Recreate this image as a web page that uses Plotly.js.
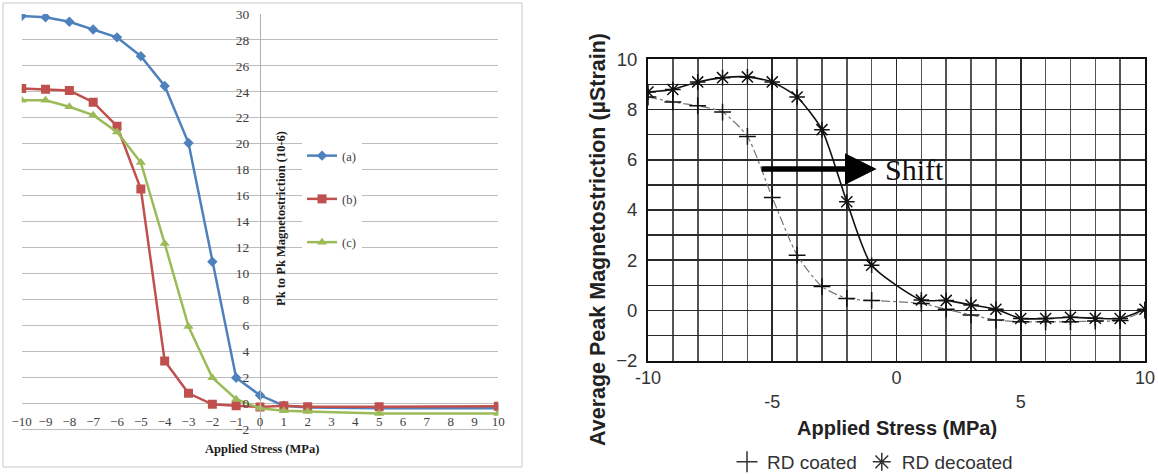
<!DOCTYPE html>
<html>
<head>
<meta charset="utf-8">
<script src="https://cdn.plot.ly/plotly-3.0.1.min.js"></script>
<style>html,body{margin:0;padding:0;background:#fff;}#chart{width:1158px;height:474px;}</style>
</head>
<body>
<div id="chart"></div>
<script>
// ---- Left chart data (Pk to Pk magnetostriction) ----
const stressLeft = [-10, -9, -8, -7, -6, -5, -4, -3, -2, -1, 0, 1, 2, 5, 10];
const seriesA = [29.85, 29.75, 29.4, 28.8, 28.2, 26.75, 24.45, 20.05, 10.9, 1.95, 0.6, -0.2, -0.35, -0.4, -0.4];
const seriesB = [24.25, 24.2, 24.1, 23.2, 21.35, 16.5, 3.25, 0.75, -0.1, -0.2, -0.3, -0.2, -0.28, -0.28, -0.25];
const seriesC = [23.35, 23.35, 22.85, 22.2, 20.9, 18.55, 12.3, 5.9, 1.95, 0.3, -0.4, -0.6, -0.65, -0.8, -0.8];
const leftNames = ['(a)', '(b)', '(c)'];

// ---- Right chart data (Average peak magnetostriction) ----
const stressRight = [-10, -9, -8, -7, -6, -5, -4, -3, -2, -1, 1, 2, 3, 4, 5, 6, 7, 8, 9, 10];
const rdCoated = [8.5, 8.3, 8.15, 7.9, 6.93, 4.5, 2.2, 0.95, 0.48, 0.4, 0.28, 0.05, -0.18, -0.38, -0.45, -0.45, -0.45, -0.42, -0.4, 0.0];
const rdDecoated = [8.7, 8.8, 9.1, 9.27, 9.3, 9.1, 8.5, 7.2, 4.33, 1.8, 0.42, 0.4, 0.22, 0.05, -0.32, -0.32, -0.27, -0.31, -0.32, 0.05];
const rightNames = ['RD coated', 'RD decoated'];
const rightXTicks = [-10, -5, 0, 5, 10];
const rightXTickText = ['-10', '<br>-5', '0', '<br>5', '10'];

const W = 1158, H = 474;
const px = v => v / W;
const py = v => 1 - v / H;
const serif = 'Liberation Serif, Times New Roman, serif';
const sans = 'Liberation Sans, Arial, sans-serif';

const leftColors = ['#4F81BD', '#C0504D', '#9BBB59'];
const leftSymbols = ['diamond', 'square', 'triangle-up'];
const leftSizes = [8, 9, 9];
const leftData = [seriesA, seriesB, seriesC];

const traces = [];
leftData.forEach((ys, i) => {
  traces.push({
    x: stressLeft, y: ys, xaxis: 'x', yaxis: 'y',
    type: 'scatter', mode: 'lines+markers', name: leftNames[i],
    legendgroup: 'g' + i,
    line: {color: leftColors[i], width: 2.5},
    marker: {color: leftColors[i], symbol: leftSymbols[i], size: leftSizes[i]},
    legend: 'legend'
  });
});

traces.push({
  x: stressRight, y: rdCoated, xaxis: 'x2', yaxis: 'y2',
  type: 'scatter', mode: 'lines+markers', name: rightNames[0], showlegend: false,
  line: {color: '#777', width: 1.2, dash: 'dashdot', shape: 'spline', smoothing: 0.6},
  marker: {symbol: 'cross-thin-open', size: 12, line: {color: '#111', width: 1.5}, color: '#111'}
});
traces.push({
  x: stressRight, y: rdDecoated, xaxis: 'x2', yaxis: 'y2',
  type: 'scatter', mode: 'lines+markers', name: rightNames[1], showlegend: false,
  line: {color: '#111', width: 1.6, shape: 'spline', smoothing: 0.6},
  marker: {symbol: 'asterisk-open', size: 13, line: {color: '#111', width: 1.5}, color: '#111'}
});
// legend-only entries (markers only) for right chart
traces.push({
  x: [null], y: [null], xaxis: 'x2', yaxis: 'y2', type: 'scatter', mode: 'markers',
  name: rightNames[0], legend: 'legend2',
  marker: {symbol: 'cross-thin-open', size: 15, color: '#333', line: {color: '#333', width: 1.5}}
});
traces.push({
  x: [null], y: [null], xaxis: 'x2', yaxis: 'y2', type: 'scatter', mode: 'markers',
  name: rightNames[1], legend: 'legend2',
  marker: {symbol: 'asterisk-open', size: 15, color: '#333', line: {color: '#333', width: 1.5}}
});

const layout = {
  width: W, height: H,
  margin: {l: 0, r: 0, t: 0, b: 0, autoexpand: false},
  paper_bgcolor: '#fff', plot_bgcolor: 'rgba(0,0,0,0)',
  showlegend: true,
  xaxis: {
    domain: [px(21.7), px(498.3)], range: [-10, 10], dtick: 1, tick0: 0,
    anchor: 'free', position: py(412), showgrid: false, zeroline: false,
    showline: false, ticks: '', ticklabelstandoff: 0,
    tickfont: {family: serif, size: 13, color: '#404040'}
  },
  yaxis: {
    domain: [py(430.3), py(14)], range: [-2.1, 30], dtick: 2, tick0: 0,
    anchor: 'free', position: px(260), side: 'left',
    showgrid: true, gridcolor: '#bdbdbd', gridwidth: 1, zeroline: false,
    showline: true, linecolor: '#b0b0b0', linewidth: 1,
    ticks: '', ticklabelstandoff: 8,
    tickfont: {family: serif, size: 13.5, color: '#404040'}
  },
  xaxis2: {
    domain: [px(648), px(1145)], range: [-10, 10], anchor: 'y2',
    tickvals: rightXTicks, ticktext: rightXTickText,
    showgrid: true, gridcolor: '#2a2a2a', gridwidth: 1.6, zeroline: false,
    minor: {dtick: 1, tick0: 0, showgrid: true, gridcolor: '#555', gridwidth: 1.6, ticks: ''},
    showline: true, linecolor: '#111', linewidth: 2, mirror: true,
    ticks: '', ticklabelstandoff: 0,
    tickfont: {family: sans, size: 18, color: '#333'}
  },
  yaxis2: {
    domain: [py(360.7), py(59.3)], range: [-2, 10], anchor: 'x2',
    dtick: 2, tick0: 0,
    showgrid: true, gridcolor: '#2a2a2a', gridwidth: 1.6, zeroline: false,
    minor: {dtick: 1, tick0: 0, showgrid: true, gridcolor: '#2a2a2a', gridwidth: 1.6, ticks: ''},
    showline: true, linecolor: '#111', linewidth: 2, mirror: true,
    ticks: '', ticklabelstandoff: 5,
    tickfont: {family: sans, size: 18.5, color: '#333'}
  },
  legend: {
    x: px(302), y: py(141), xanchor: 'left', yanchor: 'top',
    bgcolor: '#fff', borderwidth: 0,
    traceorder: 'grouped', tracegroupgap: 24,
    font: {family: serif, size: 12.5, color: '#404040'},
    itemwidth: 30
  },
  legend2: {
    orientation: 'h', x: px(727), y: py(462), xanchor: 'left', yanchor: 'middle',
    bgcolor: 'rgba(0,0,0,0)', borderwidth: 0,
    font: {family: sans, size: 19, color: '#333'},
    itemwidth: 30
  },
  shapes: [
    {type: 'rect', xref: 'paper', yref: 'paper', x0: px(3), x1: px(522), y0: py(467), y1: py(3),
     line: {color: '#c8c8c8', width: 1}, fillcolor: 'rgba(0,0,0,0)', layer: 'below'}
  ],
  annotations: [
    {xref: 'paper', yref: 'paper', x: px(281), y: py(219), text: 'Pk to Pk Magnetostriction (10-6)',
     textangle: -90, showarrow: false, xanchor: 'center', yanchor: 'middle',
     font: {family: serif, size: 12.5, color: '#1a1a1a', weight: 'bold'}},
    {xref: 'paper', yref: 'paper', x: px(262), y: py(449), text: 'Applied Stress (MPa)',
     showarrow: false, xanchor: 'center', yanchor: 'middle',
     font: {family: serif, size: 12.5, color: '#1a1a1a', weight: 'bold'}},
    {xref: 'paper', yref: 'paper', x: px(598), y: py(240), text: 'Average Peak Magnetostriction (µStrain)',
     textangle: -90, showarrow: false, xanchor: 'center', yanchor: 'middle',
     font: {family: sans, size: 21.5, color: '#222', weight: 'bold'}},
    {xref: 'paper', yref: 'paper', x: px(897), y: py(428), text: 'Applied Stress (MPa)',
     showarrow: false, xanchor: 'center', yanchor: 'middle',
     font: {family: sans, size: 20, color: '#222', weight: 'bold'}},
    {xref: 'x2', yref: 'y2', x: -0.8, y: 5.63, ax: -5.49, ay: 5.63, axref: 'x2', ayref: 'y2',
     showarrow: true, arrowhead: 2, arrowsize: 1.15, arrowwidth: 5.5, arrowcolor: '#000', text: ''},
    {xref: 'x2', yref: 'y2', x: -0.54, y: 5.6, text: 'Shift', showarrow: false,
     xanchor: 'left', yanchor: 'middle', font: {family: serif, size: 30, color: '#111'}}
  ]
};

Plotly.newPlot('chart', traces, layout, {displayModeBar: false, staticPlot: true});
</script>
</body>
</html>
